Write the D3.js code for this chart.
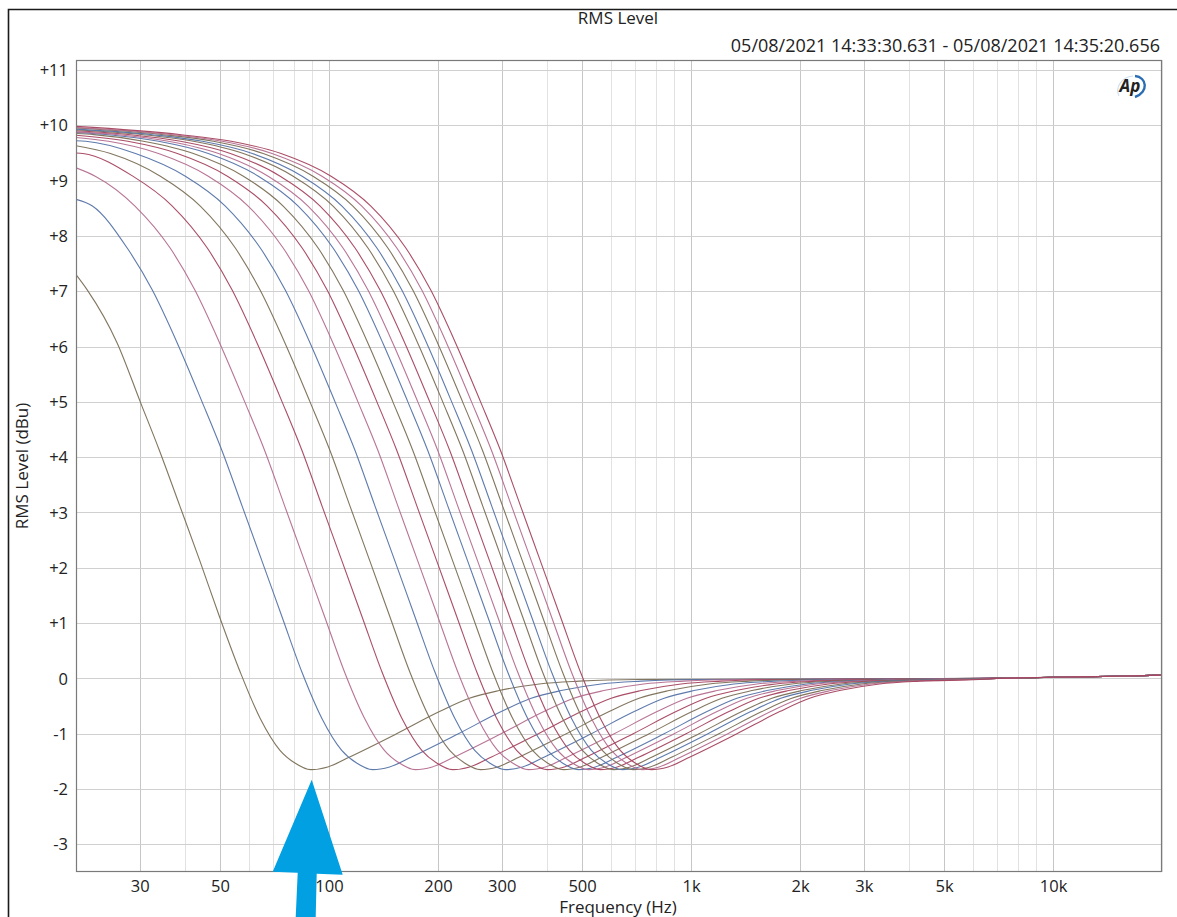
<!DOCTYPE html>
<html>
<head>
<meta charset="utf-8">
<script src="https://cdn.jsdelivr.net/npm/d3@7/dist/d3.min.js"></script>
<style>
  html, body { margin: 0; padding: 0; background: #fff; }
  svg { display: block; }
  text { font-family: "Open Sans", "Noto Sans", sans-serif; fill: #222; }
</style>
</head>
<body>
<svg id="chart" width="1177" height="917"></svg>
<script>
// ---------------- data ----------------
const title = "RMS Level";
const timeRange = "05/08/2021 14:33:30.631 - 05/08/2021 14:35:20.656";
const xTitle = "Frequency (Hz)";
const yTitle = "RMS Level (dBu)";

const xTickValues = [30, 50, 100, 200, 300, 500, 1000, 2000, 3000, 5000, 10000];
const xTickLabels = ["30", "50", "100", "200", "300", "500", "1k", "2k", "3k", "5k", "10k"];
const yTickValues = [-3, -2, -1, 0, 1, 2, 3, 4, 5, 6, 7, 8, 9, 10, 11];
const xGridValues = [20,30,40,50,60,70,80,90,100,200,300,400,500,600,700,800,900,
                     1000,2000,3000,4000,5000,6000,7000,8000,9000,10000,20000];

// dB levels each trace passes through (shared), and the frequency (Hz) at which
// each trace reaches that level (null = off the left edge of the chart)
const levels = [9.97, 9.83, 9.71, 9.49, 9.08, 8.54, 7.78, 7.02, 6.06, 5.00, 4.12, 3.12, 2.12,
                1.12, 0.12, -0.72, -1.30, -1.53, -1.65, -1.60, -1.42, -1.00, -0.60, -0.36,
                -0.22, -0.10, -0.05, -0.02];

const trace01 = [null,null,null,null,null,null,null,21.5,26.0,30.1,34.0,38.7,44.0,49.8,56.8,64.5,73.2,80.5,89.0,99.2,114.0,153.7,201.9,244.1,295.3,380.8,490.6,717.9];
const trace02 = [null,null,null,null,null,22.2,27.7,32.5,38.1,44.6,50.6,57.5,65.3,74.1,84.1,95.5,108.4,119.2,131.9,147.0,169.0,227.7,299.1,361.8,437.6,564.2,727.0,1064];
const trace03 = [null,null,null,null,22.6,29.1,36.4,42.6,49.9,58.5,66.4,75.4,85.6,97.2,110.3,125.3,142.2,156.4,173.0,192.8,221.7,298.6,392.3,474.5,573.9,740.0,953.6,1395];
const trace04 = [null,null,null,20.9,28.7,36.9,46.1,54.0,63.3,74.2,84.2,95.6,108.6,123.3,140.0,158.9,180.4,198.3,219.5,244.6,281.1,378.8,497.6,601.8,728.0,938.6,1209,1770];
const trace05 = [null,null,null,24.9,34.2,44.1,55.1,64.5,75.6,88.6,100.6,114.2,129.7,147.2,167.1,189.7,215.4,236.8,262.1,292.0,335.7,452.3,594.2,718.6,869.3,1121,1444,2113];
const trace06 = [null,null,21.3,29.2,40.1,51.7,64.6,75.7,88.7,103.9,118.0,133.9,152.1,172.6,196.0,222.5,252.6,277.7,307.3,342.5,393.7,530.4,696.8,842.7,1019,1314,1694,2478];
const trace07 = [null,null,24.6,33.8,46.4,59.8,74.7,87.6,102.6,120.2,136.5,154.9,175.9,199.7,226.7,257.4,292.2,321.3,355.6,396.2,455.4,613.6,806.1,974.9,1179,1521,1959,2867];
const trace08 = [null,null,27.8,38.1,52.4,67.5,84.3,98.8,115.7,135.6,153.9,174.8,198.5,225.3,255.8,290.4,329.7,362.5,401.1,446.9,513.8,692.2,909.3,1100,1330,1715,2210,3234];
const trace09 = [null,22.4,30.7,42.2,58.0,74.7,93.3,109.3,128.1,150.1,170.4,193.5,219.7,249.4,283.1,321.4,364.9,401.2,444.0,494.7,568.7,766.3,1007,1217,1473,1899,2447,3580];
const trace10 = [null,24.6,33.8,46.4,63.8,82.2,102.6,120.3,140.9,165.1,187.4,212.8,241.6,274.3,311.4,353.5,401.4,441.3,488.4,544.2,625.6,842.8,1107,1339,1620,2089,2691,3938];
const trace11 = [null,26.2,36.0,49.5,67.9,87.5,109.3,128.1,150.1,175.9,199.7,226.7,257.4,292.2,331.8,376.7,427.6,470.2,520.3,579.8,666.5,898.0,1180,1427,1726,2225,2867,4195];
const trace12 = [null,28.3,38.9,53.4,73.3,94.5,118.0,138.3,162.0,189.8,215.5,244.7,277.8,315.3,358.0,406.4,461.4,507.3,561.4,625.6,719.2,968.9,1273,1539,1862,2401,3094,4527];
const trace13 = [null,30.7,42.2,58.0,79.6,102.6,128.1,150.1,175.9,206.1,234.0,265.7,301.6,342.4,388.7,441.3,501.1,550.9,609.6,679.3,780.9,1052,1382,1672,2022,2607,3359,4916];
const trace14 = [null,32.5,44.7,61.4,84.3,108.6,135.6,158.9,186.2,218.2,247.7,281.3,319.3,362.5,411.6,467.3,530.5,583.2,645.4,719.2,826.8,1114,1463,1770,2141,2760,3557,5204];
const trace15 = [null,34.9,47.9,65.8,90.3,116.4,145.4,170.4,199.6,233.9,265.5,301.5,342.3,388.6,441.2,500.9,568.6,625.2,691.9,770.9,886.2,1194,1569,1897,2295,2959,3813,5579];
const trace16 = [null,36.9,50.7,69.6,95.6,123.2,153.9,180.4,211.3,247.6,281.1,319.2,362.4,411.4,467.0,530.2,601.9,661.8,732.4,816.1,938.2,1264,1660,2008,2429,3132,4036,5905];
const trace17 = [null,39.1,53.7,73.7,101.3,130.5,163.0,191.0,223.8,262.2,297.7,338.0,383.7,435.6,494.6,561.5,637.4,700.9,775.6,864.2,993.5,1339,1758,2127,2572,3317,4274,6253];

const traceFreqs = [trace01, trace02, trace03, trace04, trace05, trace06, trace07, trace08, trace09,
                    trace10, trace11, trace12, trace13, trace14, trace15, trace16, trace17];
// level of each trace at 20 Hz (left edge)
const startDb = [7.30, 8.66, 9.23, 9.50, 9.63, 9.72, 9.78, 9.82, 9.85, 9.87, 9.88, 9.90, 9.92, 9.93, 9.95, 9.96, 9.98];
// common high-frequency tail of all traces
const tailFreqs = [7000, 10000, 15000, 20000];
const tailDb = [0.00, 0.02, 0.04, 0.06];

const traceColors = ["#7a6e55", "#5573a8", "#b46d8f", "#a5435f", "#7a6e55", "#5573a8", "#b46d8f", "#a5435f",
                     "#7a6e55", "#5573a8", "#b46d8f", "#a5435f", "#7a6e55", "#5573a8", "#7a6e55", "#b46d8f", "#a5435f"];

// ---------------- chart ----------------
const svg = d3.select("#chart");
const W = 1177, H = 917;
const plot = { left: 76, right: 1162, top: 60, bottom: 872 };

const x = d3.scaleLog().domain([20, 20000]).range([plot.left, plot.right]);
const y = d3.scaleLinear().domain([-3.5, 11.18]).range([plot.bottom, plot.top]);

// outer frame (top and left edges visible)
svg.append("path")
  .attr("d", `M8.5,${H} L8.5,9.5 L${W},9.5`)
  .attr("fill", "none").attr("stroke", "#1a1a1a").attr("stroke-width", 1.6);

// grid
const majorSet = new Set(xTickValues);
svg.append("g").selectAll("line").data(xGridValues).join("line")
  .attr("x1", d => Math.round(x(d)) + 0.5).attr("x2", d => Math.round(x(d)) + 0.5)
  .attr("y1", plot.top).attr("y2", plot.bottom)
  .attr("stroke", d => majorSet.has(d) ? "#c6c6c6" : "#e2e2e2").attr("stroke-width", 1);
svg.append("g").selectAll("line").data(yTickValues).join("line")
  .attr("x1", plot.left).attr("x2", plot.right)
  .attr("y1", d => Math.round(y(d)) + 0.5).attr("y2", d => Math.round(y(d)) + 0.5)
  .attr("stroke", "#d0d0d0").attr("stroke-width", 1);

// traces
svg.append("clipPath").attr("id", "clip").append("rect")
  .attr("x", plot.left).attr("y", plot.top)
  .attr("width", plot.right - plot.left).attr("height", plot.bottom - plot.top);

const line = d3.line().x(d => x(d[0])).y(d => y(d[1])).curve(d3.curveMonotoneX);
const traces = traceFreqs.map((fr, i) => {
  const pts = [[20, startDb[i]]];
  fr.forEach((f, j) => { if (f !== null) pts.push([f, levels[j]]); });
  tailFreqs.forEach((f, j) => pts.push([f, tailDb[j]]));
  return pts;
});
svg.append("g").attr("clip-path", "url(#clip)")
  .selectAll("path").data(traces).join("path")
  .attr("d", line)
  .attr("fill", "none")
  .attr("stroke", (d, i) => traceColors[i])
  .attr("stroke-width", 1.1)
  .attr("stroke-opacity", 0.95);

// plot border
svg.append("rect")
  .attr("x", plot.left + 0.5).attr("y", plot.top + 0.5)
  .attr("width", plot.right - plot.left - 1).attr("height", plot.bottom - plot.top - 1)
  .attr("fill", "none").attr("stroke", "#7a7a7a").attr("stroke-width", 1.2);

// axes (labels only)
const yAxis = d3.axisLeft(y).tickValues(yTickValues).tickSize(0).tickPadding(0)
  .tickFormat(d => d > 0 ? "+" + d : String(d));
const gy = svg.append("g").attr("transform", `translate(${plot.left - 8},0)`).call(yAxis);
gy.select(".domain").remove();
gy.selectAll("text").style("font-family", '"Open Sans", sans-serif').style("font-size", "16.5px").attr("fill", "#222").attr("dy", "0.34em");

const xAxis = d3.axisBottom(x).tickValues(xTickValues).tickSize(0).tickPadding(0)
  .tickFormat((d, i) => xTickLabels[i]);
const gx = svg.append("g").attr("transform", `translate(0,${plot.bottom + 7})`).call(xAxis);
gx.select(".domain").remove();
gx.selectAll("text").style("font-family", '"Open Sans", sans-serif').style("font-size", "16.5px").attr("fill", "#222").attr("dy", "0.8em");

// titles
svg.append("text").attr("x", 618).attr("y", 24).attr("text-anchor", "middle")
  .style("font-size", "17px").text(title);
svg.append("text").attr("x", 1160).attr("y", 52).attr("text-anchor", "end")
  .style("font-size", "18px").text(timeRange);
svg.append("text").attr("x", 618).attr("y", 913).attr("text-anchor", "middle")
  .style("font-size", "17px").text(xTitle);
svg.append("text").attr("transform", `translate(28,${(plot.top + plot.bottom) / 2}) rotate(-90)`)
  .attr("text-anchor", "middle").style("font-size", "17px").text(yTitle);

// AP logo
const logo = svg.append("g").attr("transform", "translate(1131,86)");
logo.append("path")
  .attr("d", "M4,-10 C16,-9 18,6 4,11")
  .attr("fill", "none").attr("stroke", "#2a6db3").attr("stroke-width", 2.4);
logo.append("path")
  .attr("d", "M-12,10 C-16,2 -10,-9 2,-10")
  .attr("fill", "none").attr("stroke", "#cfe0f2").attr("stroke-width", 1.2);
logo.append("text").attr("x", -1).attr("y", 6).attr("text-anchor", "middle")
  .style("font-size", "17px").style("font-style", "italic").style("font-weight", "bold")
  .style("font-family", '"Open Sans", sans-serif').attr("fill", "#2a6db3").text("Ap");

// annotation arrow pointing at the minimum of the lowest-frequency trace
const minF = trace01[levels.indexOf(-1.65)];
const tipX = x(minF) + 1, tipY = y(-1.65) + 10;
const arrow = [
  [tipX, tipY], [tipX + 31, tipY + 95], [tipX + 5, tipY + 94], [tipX + 4, H],
  [tipX - 16, H], [tipX - 14, tipY + 93], [tipX - 39, tipY + 92]
];
svg.append("polygon").attr("points", arrow.map(p => p.join(",")).join(" "))
  .attr("fill", "#00a0e3");
</script>
</body>
</html>
